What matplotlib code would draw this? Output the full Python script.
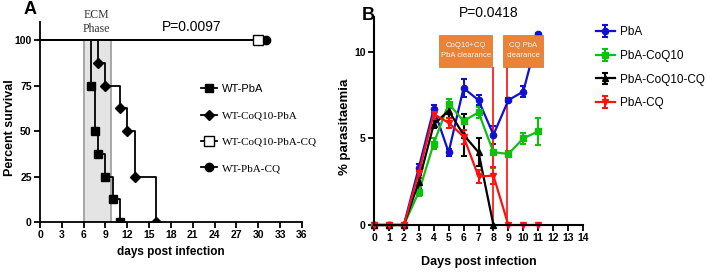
import matplotlib
matplotlib.use('Agg')
import matplotlib.pyplot as plt
from matplotlib.patches import Rectangle

SANS = 'Liberation Sans'
SERIF = 'Liberation Serif'

# ---- panel A: survival ----
wt_pba_days = [0, 7, 7.5, 8, 9, 10, 11]
wt_pba_surv = [100, 75, 50, 37.5, 25, 12.5, 0]
wt_coq10_days = [0, 8, 9, 11, 12, 13, 16]
wt_coq10_surv = [100, 87.5, 75, 62.5, 50, 25, 0]
wt_coq10_cq_days = [0, 30]
wt_coq10_cq_surv = [100, 100]
wt_pba_cq_days = [0, 31]
wt_pba_cq_surv = [100, 100]
ecm_phase = [6, 9.7]
a_xticks = list(range(0, 37, 3))
a_yticks = [0, 25, 50, 75, 100]

# ---- panel B: parasitaemia ----
days = list(range(0, 12))
pba = [0, 0, 0, 3.3, 6.7, 4.2, 7.9, 7.2, 5.2, 7.2, 7.7, 11.0]
pba_err = [0, 0, 0, 0.2, 0.25, 0.2, 0.5, 0.3, 0.5, 0.1, 0.3, 0.1]
pba_coq10 = [0, 0, 0, 1.9, 4.7, 7.0, 6.0, 6.5, 4.2, 4.1, 5.0, 5.4]
pba_coq10_err = [0, 0, 0, 0.25, 0.3, 0.25, 0.2, 0.3, 0.9, 0.15, 0.3, 0.8]
cq_days = list(range(0, 9))
pba_coq10_cq = [0, 0, 0, 2.5, 5.8, 6.6, 5.2, 4.2, 0]
pba_coq10_cq_err = [0, 0, 0, 0.4, 0.2, 0.4, 1.2, 0.8, 0]
pba_cq = [0, 0, 0, 3.0, 6.4, 5.9, 5.1, 2.8, 2.85, 0, 0, 0]
pba_cq_err = [0, 0, 0, 0.3, 0.3, 0.3, 0.4, 0.4, 0.5, 0, 0, 0]
clearance_days = [7.95, 8.9]
box_x = [(4.36, 7.92), (8.66, 11.34)]
box_text = ['CoQ10+CQ\nPbA clearance', 'CQ PbA\nclearance']

fig = plt.figure(figsize=(7.08, 2.78), dpi=100)

# ================= A =================
ax = fig.add_axes([40 / 708, 1 - 222 / 278, 262 / 708, 200 / 278])
ax.axvspan(ecm_phase[0], ecm_phase[1], ymin=0, ymax=100 / 110,
           facecolor='#e4e4e4', edgecolor='#9a9a9a', lw=1.2, zorder=0)
ax.step(wt_pba_days, wt_pba_surv, where='post', color='black', lw=1.3)
ax.plot(wt_pba_days[1:], wt_pba_surv[1:], 's', color='black', ms=6)
ax.step(wt_coq10_days, wt_coq10_surv, where='post', color='black', lw=1.3)
ax.plot(wt_coq10_days[1:], wt_coq10_surv[1:], 'D', color='black', ms=5.5)
ax.plot(wt_pba_cq_days, wt_pba_cq_surv, color='black', lw=1.3)
ax.plot(wt_coq10_cq_days, wt_coq10_cq_surv, color='black', lw=1.3)
ax.plot(wt_pba_cq_days[1:], wt_pba_cq_surv[1:], 'o', color='black', ms=6, zorder=3)
ax.plot(wt_coq10_cq_days[1:], wt_coq10_cq_surv[1:], 's', mfc='white', mec='black',
        ms=6.5, zorder=4)

# legend handles
h1, = ax.plot([], [], 's-', color='black', ms=6, lw=1.3)
h2, = ax.plot([], [], 'D-', color='black', ms=5.5, lw=1.3)
h3, = ax.plot([], [], 's-', color='black', mfc='white', ms=6.5, lw=1.3)
h4, = ax.plot([], [], 'o-', color='black', ms=6, lw=1.3)
leg = ax.legend([h1, h2, h3, h4], ['WT-PbA', 'WT-CoQ10-PbA', 'WT-CoQ10-PbA-CQ', 'WT-PbA-CQ'],
                loc='upper left', bbox_to_anchor=(201 / 708, 1 - 84 / 278),
                bbox_transform=fig.transFigure, frameon=False, borderpad=0,
                borderaxespad=0, handlelength=1.4, handletextpad=0.5,
                labelspacing=1.5, prop={'family': SERIF, 'size': 8})
leg.get_texts()[0].set_family(SANS)

ax.set_xlim(0, 36)
ax.set_ylim(0, 110)
ax.set_xticks(a_xticks)
ax.set_yticks(a_yticks)
for s in ['top', 'right']:
    ax.spines[s].set_visible(False)
for s in ['left', 'bottom']:
    ax.spines[s].set_linewidth(1.3)
ax.tick_params(width=1.3, length=4, pad=2)
for lab in ax.get_xticklabels() + ax.get_yticklabels():
    lab.set_family(SANS)
    lab.set_weight('bold')
    lab.set_size(7.5)
ax.set_xlabel('days post infection', family=SANS, weight='bold', size=8.5)
ax.xaxis.set_label_coords(0.5, -(246 - 222) / 200)
ax.set_ylabel('Percent survival', family=SANS, weight='bold', size=9)
ax.yaxis.set_label_coords(-(40 - 16) / 262, 0.47)
ax.text(7.75, 103, 'ECM\nPhase', family=SERIF, size=8.5, ha='center', va='bottom',
        color='#333333', linespacing=1.15, clip_on=False)
ax.text(20.9, 107, 'P=0.0097', family=SANS, size=10, ha='center', va='center')
fig.text(24 / 708, 1 - 10 / 278, 'A', family=SANS, weight='bold', size=13, va='center')

# ================= B =================
bx = fig.add_axes([374 / 708, 1 - 225 / 278, 209 / 708, 208 / 278])
ekw = dict(capsize=2.5, elinewidth=1.5, capthick=1.5, lw=1.6, ms=4.5, clip_on=False)
bx.errorbar(days, pba, yerr=pba_err, fmt='o-', color='#1010d0', label='PbA', **ekw)
bx.errorbar(days, pba_coq10, yerr=pba_coq10_err, fmt='s-', color='#10c010',
            label='PbA-CoQ10', **ekw)
bx.errorbar(cq_days, pba_coq10_cq, yerr=pba_coq10_cq_err, fmt='^-', color='black',
            label='PbA-CoQ10-CQ', **ekw)
bx.errorbar(days, pba_cq, yerr=pba_cq_err, fmt='v-', color='#ff1010', label='PbA-CQ', **ekw)

bx.vlines(clearance_days, 0, 9.13, color='#ff2020', lw=1.3)
for (x0, x1), t in zip(box_x, box_text):
    bx.add_patch(Rectangle((x0, 9.13), x1 - x0, 1.85, facecolor='#ea8338',
                           edgecolor='#d07030', lw=0.5, zorder=5))
    bx.text((x0 + x1) / 2, 10.05, t, ha='center', va='center', size=5.6,
            family=SANS, color='#fff6ea', linespacing=1.6, zorder=6)

bx.set_xlim(0, 14)
bx.set_ylim(0, 12)
bx.set_xticks(range(0, 15))
bx.set_yticks([0, 5, 10])
for s in ['top', 'right']:
    bx.spines[s].set_visible(False)
for s in ['left', 'bottom']:
    bx.spines[s].set_linewidth(1.5)
bx.tick_params(width=1.3, length=4, pad=2)
for lab in bx.get_xticklabels() + bx.get_yticklabels():
    lab.set_family(SANS)
    lab.set_weight('bold')
    lab.set_size(7.5)
bx.set_xlabel('Days post infection', family=SANS, weight='bold', size=9)
bx.xaxis.set_label_coords(0.5, -(256 - 225) / 208)
bx.set_ylabel('% parasitaemia', family=SANS, weight='bold', size=9.5)
bx.yaxis.set_label_coords(-(374 - 351) / 209, 0.47)
bx.text(7.65, 12.25, 'P=0.0418', family=SANS, size=10, ha='center', va='center',
        clip_on=False)
fig.text(362 / 708, 1 - 15 / 278, 'B', family=SANS, weight='bold', size=13, va='center')
bx.legend(loc='upper left', bbox_to_anchor=(596 / 708, 1 - 26 / 278),
          bbox_transform=fig.transFigure, frameon=False, borderpad=0,
          borderaxespad=0, handlelength=1.6, handletextpad=0.4,
          labelspacing=1.0, prop={'family': SANS, 'size': 8.5})

fig.savefig('out.png', dpi=100)
